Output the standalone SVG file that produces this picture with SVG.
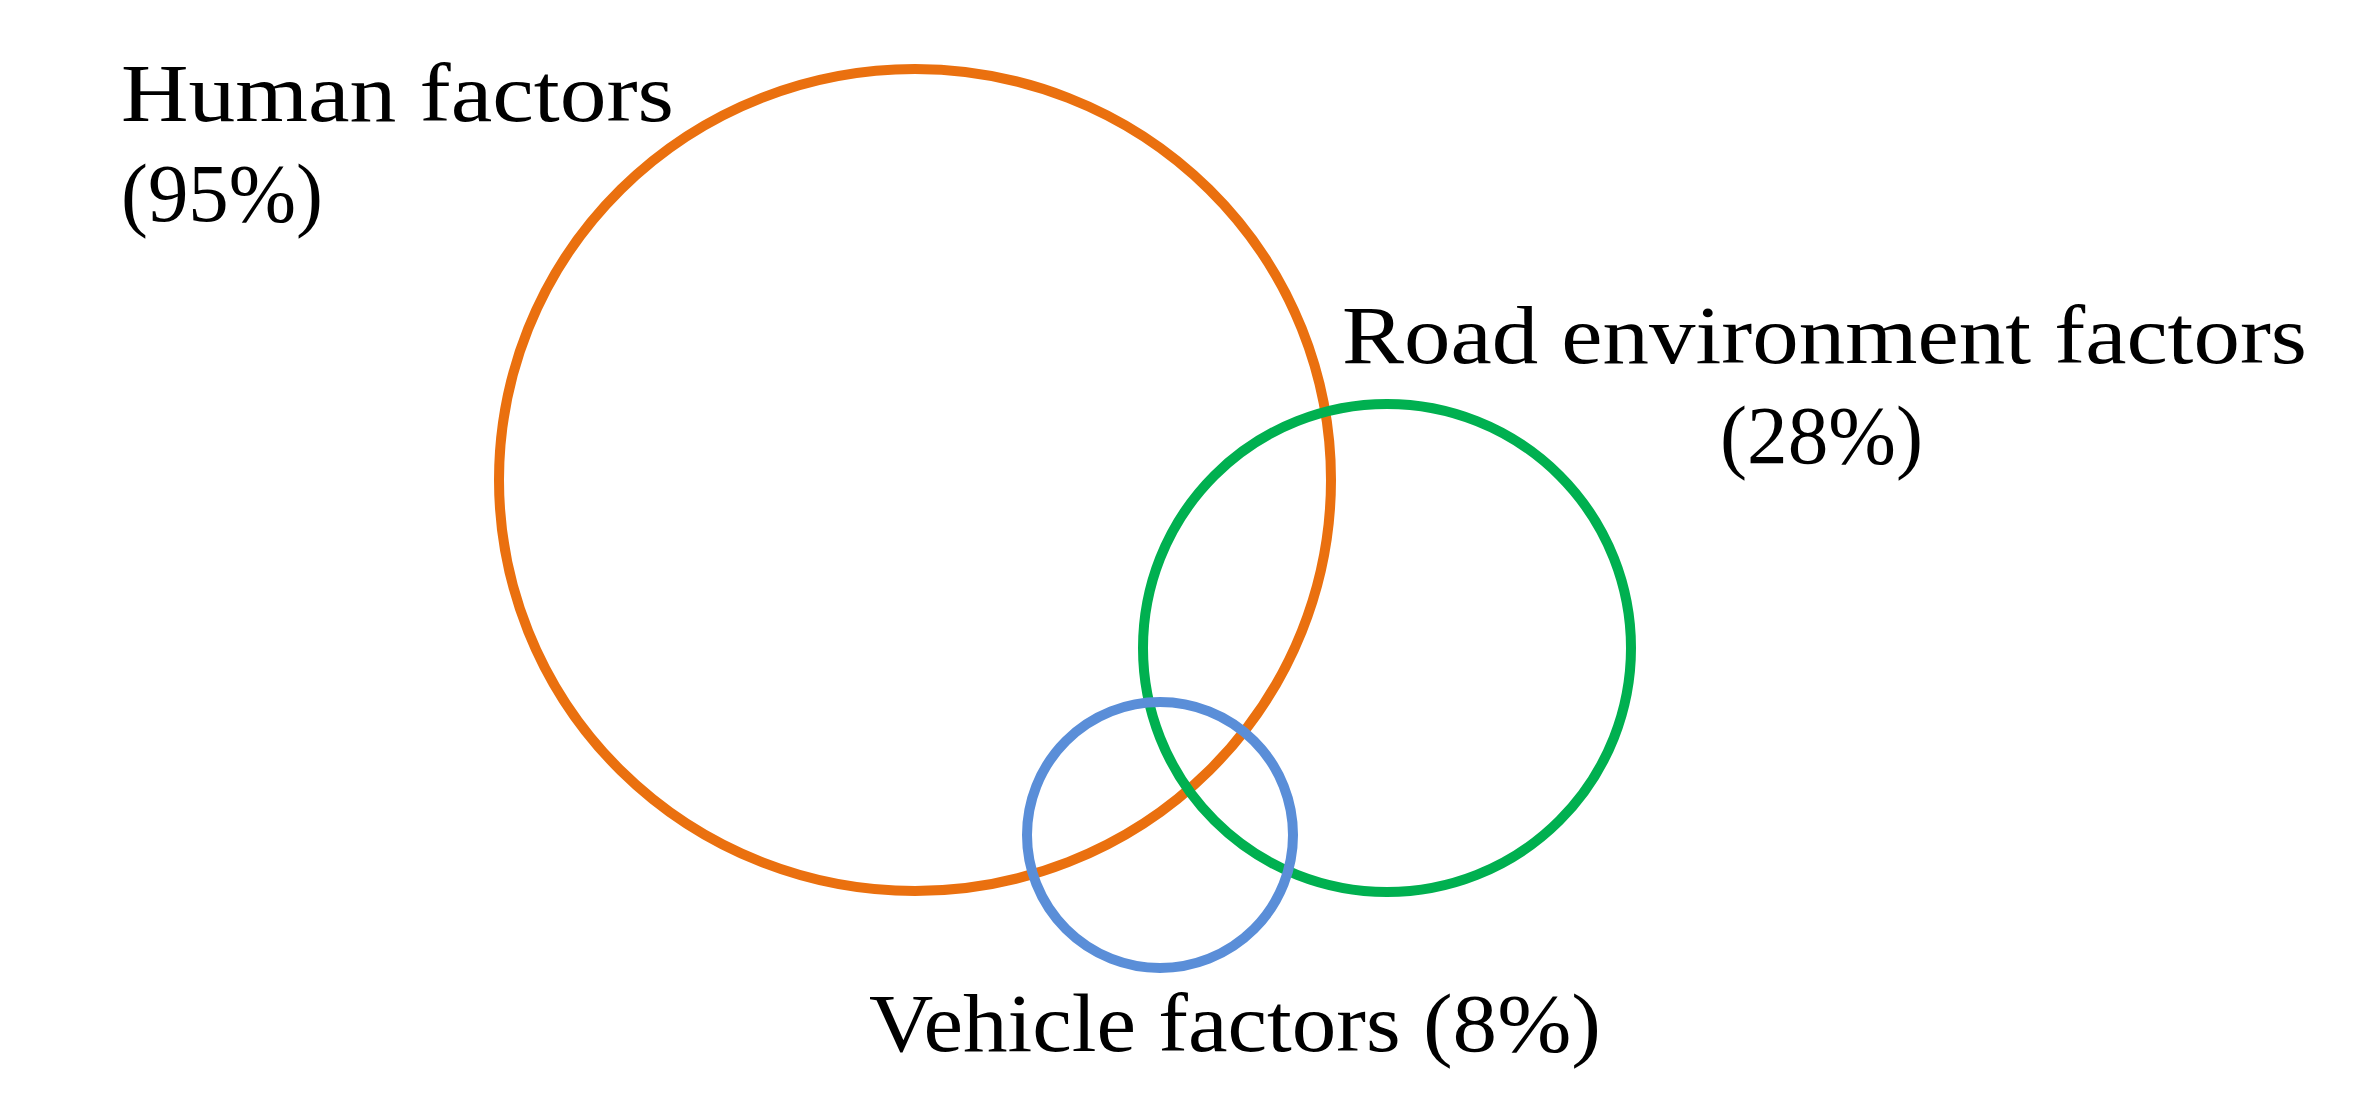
<svg xmlns="http://www.w3.org/2000/svg" width="2366" height="1102" viewBox="0 0 2366 1102">
<style>
.c{fill:none;stroke-width:10}
.t{font-family:"Liberation Serif","DejaVu Serif",serif;font-size:82px;fill:#000}
</style>
<rect width="2366" height="1102" fill="#fff"/>
<g id="human">
<ellipse class="c" cx="915" cy="480" rx="416" ry="411" stroke="#EA700F"/>
<text class="t" x="121" y="121" textLength="553" lengthAdjust="spacingAndGlyphs">Human factors</text>
<text class="t" x="121" y="221" textLength="202" lengthAdjust="spacingAndGlyphs">(95%)</text>
</g>
<g id="road">
<circle class="c" cx="1387" cy="648" r="244" stroke="#00B050"/>
<text class="t" x="1342" y="363" textLength="965" lengthAdjust="spacingAndGlyphs">Road environment factors</text>
<text class="t" x="1720" y="463" textLength="203" lengthAdjust="spacingAndGlyphs">(28%)</text>
</g>
<g id="vehicle">
<circle class="c" cx="1160" cy="835" r="133" stroke="#5A8ED8"/>
<text class="t" x="869" y="1051" textLength="732" lengthAdjust="spacingAndGlyphs">Vehicle factors (8%)</text>
</g>
<g id="connectors"/>
</svg>
